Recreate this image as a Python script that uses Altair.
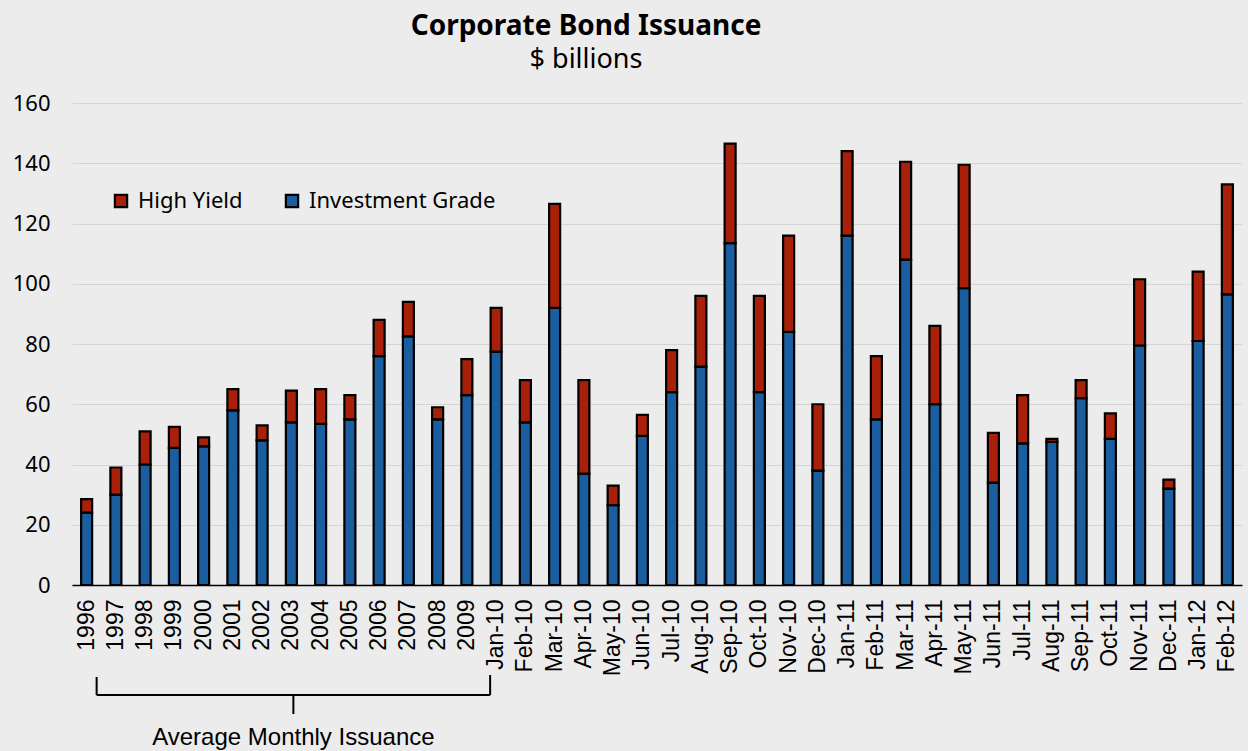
import altair as alt
import pandas as pd

categories = ["1996", "1997", "1998", "1999", "2000", "2001", "2002", "2003", "2004", "2005",
              "2006", "2007", "2008", "2009",
              "Jan-10", "Feb-10", "Mar-10", "Apr-10", "May-10", "Jun-10", "Jul-10", "Aug-10",
              "Sep-10", "Oct-10", "Nov-10", "Dec-10",
              "Jan-11", "Feb-11", "Mar-11", "Apr-11", "May-11", "Jun-11", "Jul-11", "Aug-11",
              "Sep-11", "Oct-11", "Nov-11", "Dec-11",
              "Jan-12", "Feb-12"]

investment_grade = [24, 30, 40, 45.5, 46, 58, 48, 54, 53.5, 55,
                    76, 82.5, 55, 63,
                    77.5, 54, 92, 37, 26.5, 49.5, 64, 72.5, 113.5, 64, 84, 38,
                    116, 55, 108, 60, 98.5, 34, 47, 47.5, 62, 48.5, 79.5, 32,
                    81, 96.5]

high_yield = [4.5, 9, 11, 7, 3, 7, 5, 10.5, 11.5, 8,
              12, 11.5, 4, 12,
              14.5, 14, 34.5, 31, 6.5, 7, 14, 23.5, 33, 32, 32, 22,
              28, 21, 32.5, 26, 41, 16.5, 16, 1, 6, 8.5, 22, 3,
              23, 36.5]

series_names = ["High Yield", "Investment Grade"]
series_colors = ["#A82009", "#1B5E9F"]

rows = []
for c, ig, hy in zip(categories, investment_grade, high_yield):
    rows.append({"period": c, "series": "Investment Grade", "value": ig, "stack": 0})
    rows.append({"period": c, "series": "High Yield", "value": hy, "stack": 1})
df = pd.DataFrame(rows)

x_scale = alt.Scale(domain=categories, paddingInner=0.6, paddingOuter=0.3)

bars = alt.Chart(df).mark_bar(size=11, stroke="black", strokeWidth=2.2).encode(
    x=alt.X("period:N", scale=x_scale, sort=categories,
            axis=alt.Axis(title=None, labelAngle=-90, labelFont="Liberation Sans",
                          labelFontSize=23, labelColor="black", ticks=False,
                          labelPadding=14, domainColor="black", domainWidth=1.5,
                          grid=False)),
    y=alt.Y("value:Q", stack="zero",
            scale=alt.Scale(domain=[0, 160], nice=False),
            axis=alt.Axis(title=None, values=list(range(0, 161, 20)), grid=True,
                          gridColor="#d5d5d5", gridWidth=1, domain=False, ticks=False,
                          labelFont="Noto Sans", labelFontSize=22, labelColor="black",
                          labelPadding=22)),
    color=alt.Color("series:N",
                    scale=alt.Scale(domain=series_names, range=series_colors),
                    legend=alt.Legend(title=None, orient="none", legendX=38, legendY=87,
                                      direction="horizontal", symbolType="square",
                                      symbolSize=150, symbolStrokeColor="black",
                                      symbolStrokeWidth=2.2, labelFont="Noto Sans",
                                      labelFontSize=22, labelColor="black",
                                      labelLimit=400,
                                      columnPadding=38, labelOffset=6)),
    order=alt.Order("stack:Q", sort="ascending"),
)

# bracket annotation beneath the year labels
bracket_v = pd.DataFrame([{"period": "1996"}])
bracket_r = pd.DataFrame([{"period": "Jan-10"}])
bracket_m = pd.DataFrame([{"period": "2003"}])
bracket_h = pd.DataFrame([{"period": "1996", "period2": "Jan-10"}])

rule_style = dict(color="black", strokeWidth=2)

left_v = alt.Chart(bracket_v).mark_rule(xOffset=10, **rule_style).encode(
    x=alt.X("period:N", scale=x_scale, sort=categories),
    y=alt.value(574), y2=alt.value(592))
right_v = alt.Chart(bracket_r).mark_rule(xOffset=-6, **rule_style).encode(
    x=alt.X("period:N", scale=x_scale, sort=categories),
    y=alt.value(572), y2=alt.value(592))
mid_v = alt.Chart(bracket_m).mark_rule(xOffset=2, **rule_style).encode(
    x=alt.X("period:N", scale=x_scale, sort=categories),
    y=alt.value(592), y2=alt.value(611))
horiz = alt.Chart(bracket_h).mark_rule(xOffset=10, x2Offset=-6, **rule_style).encode(
    x=alt.X("period:N", scale=x_scale, sort=categories),
    x2="period2:N",
    y=alt.value(592))

note = alt.Chart(pd.DataFrame([{"period": "2003", "text": "Average Monthly Issuance"}])).mark_text(
    font="Liberation Sans", fontSize=24, color="black", baseline="alphabetic",
    align="center", dx=2).encode(
    x=alt.X("period:N", scale=x_scale, sort=categories),
    y=alt.value(642),
    text="text:N")

chart = alt.layer(bars, left_v, right_v, mid_v, horiz, note).properties(
    width=1170, height=482,
    autosize=alt.AutoSizeParams(type="none"),
    padding={"left": 72, "top": 103, "right": 6, "bottom": 166},
    background="#ececec",
    title=alt.TitleParams(text="Corporate Bond Issuance", subtitle="$ billions",
                          font="Noto Sans", subtitleFont="Noto Sans",
                          fontSize=28, subtitleFontSize=27, fontWeight="bold",
                          subtitleFontWeight="normal", color="black",
                          subtitleColor="black", anchor="middle", dx=-71,
                          offset=19, subtitlePadding=6),
).configure_view(stroke=None)

chart.save("out.html", embed_options={"renderer": "svg", "actions": False})
